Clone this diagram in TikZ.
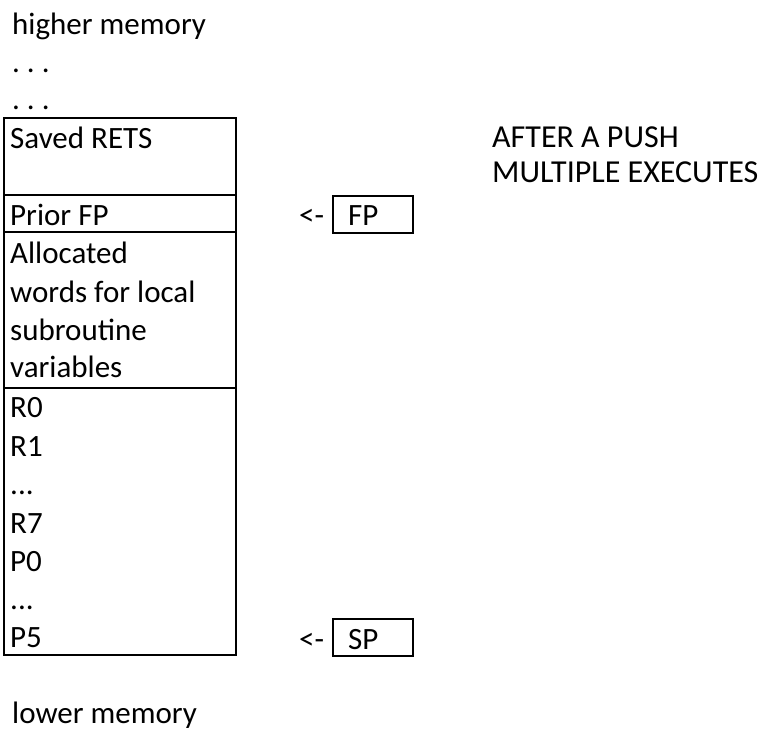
\documentclass[tikz,border=0pt]{standalone}
\usepackage{fontspec}
\setmainfont{Carlito}
\begin{document}
\begin{tikzpicture}[x=1pt,y=-1pt,
  lbl/.style={anchor=base west,inner sep=0pt,font=\fontsize{31}{36}\selectfont},
  frame/.style={draw,line width=2.4pt},
  ptrbox/.style={draw,line width=2.4pt,minimum width=80pt,minimum height=37pt,inner sep=0pt}]
\useasboundingbox (0,0) rectangle (766,731);
% stack frame boxes
\draw[frame] (4,118) rectangle (236,195);
\draw[frame] (4,195) rectangle (236,232);
\draw[frame] (4,232) rectangle (236,388);
\draw[frame] (4,388) rectangle (236,655);
% outside labels
\node[lbl] (hi) at (12,34) {higher memory};
\node[lbl] (d1) at (12,72) {.\kern7pt.\kern7pt.};
\node[lbl] (d2) at (12,109) {.\kern7pt.\kern7pt.};
\node[lbl] (lo) at (12,723) {lower memory};
% box contents
\node[lbl] (rets) at (10,148) {Saved RETS};
\node[lbl] (pfp) at (10,225) {Prior FP};
\node[lbl] (a1) at (10,263) {Allocated};
\node[lbl] (a2) at (10,302) {words for local};
\node[lbl] (a3) at (10,340) {subroutine};
\node[lbl] (a4) at (10,377) {variables};
\node[lbl] (r0) at (10,417) {R0};
\node[lbl] (r1) at (10,456) {R1};
\node[lbl] (rd) at (10,494) {...};
\node[lbl] (r7) at (10,533) {R7};
\node[lbl] (p0) at (10,571) {P0};
\node[lbl] (pd) at (10,609) {...};
\node[lbl] (p5) at (10,647) {P5};
% pointers
\node[ptrbox,anchor=north west] (fpbox) at (332,195) {};
\node[lbl] (fp) at (348,225) {FP};
\node[lbl] (fparr) at (299,225) {<-};
\node[ptrbox,anchor=north west] (spbox) at (332,618) {};
\node[lbl] (sp) at (348,649) {SP};
\node[lbl] (sparr) at (299,649) {<-};
% title
\node[lbl,font=\fontsize{32}{36}\selectfont] (t1) at (492,147) {AFTER A PUSH};
\node[lbl,font=\fontsize{32}{36}\selectfont] (t2) at (492,182) {MULTIPLE EXECUTES};
\end{tikzpicture}
\end{document}
